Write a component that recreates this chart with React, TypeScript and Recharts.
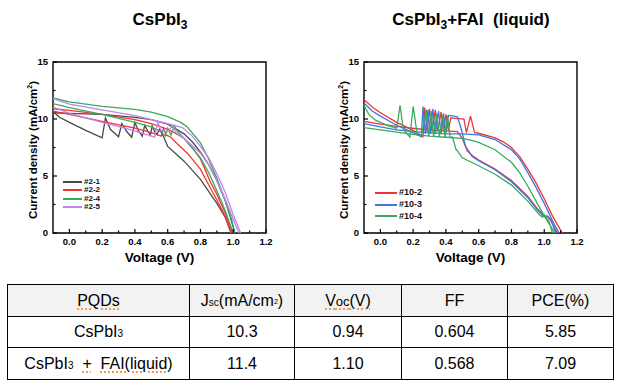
import React from "react";
import { LineChart, Line, XAxis, YAxis, ReferenceArea } from "recharts";

// axis ticks
const xMajor = [0, 0.2, 0.4, 0.6, 0.8, 1.0, 1.2];
const xMinor = [0.1, 0.3, 0.5, 0.7, 0.9, 1.1];
const yMajor = [0, 5, 10, 15];
const yMinor = [2.5, 7.5, 12.5];

// CsPbI3 curves  [V, J]
const s21a = [[-0.1, 10.55], [0, 10.5], [0.2, 10.4], [0.4, 10.15], [0.5, 9.95], [0.6, 9.55], [0.7, 8.7], [0.75, 8.0], [0.8, 7.1], [0.85, 6.0], [0.9, 4.6], [0.95, 2.9], [0.98, 1.5], [1.0, 0.5], [1.01, 0]];
const s21b = [[-0.1, 10.65], [-0.06, 10.15], [0, 9.7], [0.1, 9.0], [0.2, 8.35], [0.22, 10.1], [0.25, 9.1], [0.3, 8.45], [0.32, 9.6], [0.35, 8.9], [0.38, 8.4], [0.4, 9.7], [0.42, 9.0], [0.445, 8.5], [0.46, 9.45], [0.48, 8.9], [0.495, 8.6], [0.505, 9.4], [0.52, 8.9], [0.535, 8.65], [0.55, 9.1], [0.575, 8.45], [0.6, 7.6], [0.7, 6.3], [0.8, 4.7], [0.9, 2.6], [0.95, 1.4], [0.99, 0]];
const s22a = [[-0.1, 10.9], [0, 10.75], [0.2, 10.4], [0.4, 9.95], [0.5, 9.6], [0.6, 9.1], [0.66, 8.65], [0.7, 8.3], [0.76, 7.3], [0.8, 6.5], [0.86, 4.5], [0.9, 3.4], [0.95, 1.8], [0.98, 0.6], [0.995, 0]];
const s22b = [[-0.1, 10.7], [0, 10.4], [0.2, 9.8], [0.4, 9.2], [0.5, 8.8], [0.56, 8.5], [0.575, 9.2], [0.59, 8.6], [0.62, 8.4], [0.66, 7.8], [0.72, 7.0], [0.8, 5.6], [0.84, 4.5], [0.9, 2.9], [0.95, 1.5], [0.985, 0]];
const s24a = [[-0.1, 11.85], [0, 11.5], [0.2, 11.1], [0.4, 10.85], [0.5, 10.6], [0.6, 10.2], [0.68, 9.7], [0.72, 9.3], [0.8, 7.9], [0.85, 6.5], [0.9, 4.8], [0.95, 2.9], [0.99, 1.2], [1.01, 0]];
const s24b = [[-0.1, 11.35], [0, 11.0], [0.2, 10.4], [0.4, 9.7], [0.5, 9.3], [0.56, 8.9], [0.585, 8.5], [0.6, 9.2], [0.62, 8.6], [0.64, 9.4], [0.66, 8.9], [0.7, 8.3], [0.8, 6.6], [0.85, 5.3], [0.9, 3.7], [0.95, 2.0], [1.0, 0]];
const s25a = [[-0.1, 11.8], [0, 11.3], [0.2, 10.8], [0.4, 10.3], [0.6, 9.6], [0.69, 9.25], [0.75, 8.5], [0.8, 7.6], [0.85, 6.6], [0.9, 5.2], [0.95, 3.6], [1.0, 1.6], [1.045, 0]];
const s25b = [[-0.1, 11.05], [0, 10.5], [0.2, 9.7], [0.4, 8.95], [0.52, 8.4], [0.54, 9.7], [0.56, 9.0], [0.6, 8.9], [0.63, 9.4], [0.65, 8.8], [0.7, 8.3], [0.8, 7.0], [0.85, 6.0], [0.9, 4.6], [0.95, 3.0], [1.0, 1.2], [1.035, 0]];

// CsPbI3 + FAI curves
const r102a = [[-0.1, 11.7], [-0.05, 11.05], [0, 10.55], [0.1, 9.7], [0.2, 9.0], [0.26, 8.45], [0.27, 11.0], [0.285, 8.9], [0.3, 10.9], [0.315, 8.9], [0.335, 10.8], [0.35, 8.9], [0.37, 10.6], [0.385, 8.9], [0.4, 10.4], [0.415, 9.0], [0.43, 10.1], [0.51, 10.0], [0.525, 8.8], [0.55, 10.25], [0.575, 8.8], [0.6, 8.75], [0.7, 8.35], [0.75, 8.0], [0.8, 7.5], [0.85, 6.7], [0.9, 5.6], [0.95, 4.4], [1.0, 3.0], [1.05, 1.5], [1.11, 0]];
const r102b = [[-0.1, 9.8], [0, 9.55], [0.1, 9.35], [0.25, 9.1], [0.35, 9.0], [0.47, 8.9], [0.5, 8.3], [0.53, 7.2], [0.57, 6.7], [0.6, 6.4], [0.7, 5.6], [0.8, 4.6], [0.9, 3.2], [0.96, 2.1], [1.0, 1.5], [1.02, 1.45], [1.04, 1.1], [1.08, 0]];
const r103a = [[-0.1, 11.4], [-0.05, 10.7], [0, 10.25], [0.1, 9.45], [0.2, 8.8], [0.25, 8.45], [0.26, 11.1], [0.275, 8.7], [0.29, 10.8], [0.305, 8.7], [0.32, 10.9], [0.335, 8.7], [0.355, 10.7], [0.37, 8.7], [0.385, 10.5], [0.4, 8.8], [0.415, 10.3], [0.43, 10.3], [0.47, 10.2], [0.49, 9.3], [0.52, 7.6], [0.56, 6.7], [0.6, 6.35], [0.7, 5.55], [0.8, 4.5], [0.9, 3.1], [0.96, 2.0], [1.0, 1.4], [1.02, 1.5], [1.04, 1.2], [1.07, 0]];
const r103b = [[-0.1, 9.6], [0, 9.3], [0.1, 9.05], [0.2, 8.9], [0.3, 8.8], [0.4, 8.7], [0.5, 8.7], [0.6, 8.6], [0.7, 8.2], [0.8, 7.3], [0.85, 6.5], [0.9, 5.3], [0.95, 4.0], [1.0, 2.6], [1.05, 1.1], [1.09, 0]];
const r104a = [[-0.1, 11.2], [-0.07, 10.4], [-0.03, 9.9], [0, 9.7], [0.05, 9.4], [0.1, 9.2], [0.12, 11.2], [0.14, 9.1], [0.18, 8.4], [0.2, 11.1], [0.225, 8.6], [0.25, 8.55], [0.28, 10.8], [0.295, 8.5], [0.31, 10.7], [0.325, 8.45], [0.345, 10.5], [0.36, 8.45], [0.38, 10.3], [0.395, 8.4], [0.41, 10.3], [0.425, 8.4], [0.44, 8.4], [0.46, 7.4], [0.5, 6.6], [0.6, 5.9], [0.7, 5.15], [0.8, 4.2], [0.9, 2.8], [0.97, 1.6], [0.99, 1.4], [1.0, 1.6], [1.03, 1.0], [1.05, 0]];
const r104b = [[-0.1, 9.25], [0, 9.05], [0.1, 8.85], [0.2, 8.65], [0.3, 8.5], [0.4, 8.4], [0.5, 8.3], [0.55, 8.15], [0.6, 7.95], [0.7, 7.3], [0.8, 6.2], [0.85, 5.3], [0.9, 4.1], [0.95, 2.8], [1.0, 1.5], [1.065, 0]];

const GRAY = "#4a4a4a";
const RED = "#f03434";
const GREEN = "#3aaa5e";
const PURPLE = "#c283f0";
const BLUE = "#3a78e2";

const leftSamples = [
  { name: "#2-1", color: GRAY, branches: [s21a, s21b] },
  { name: "#2-2", color: RED, branches: [s22a, s22b] },
  { name: "#2-4", color: GREEN, branches: [s24a, s24b] },
  { name: "#2-5", color: PURPLE, branches: [s25a, s25b] },
];
const rightSamples = [
  { name: "#10-2", color: RED, branches: [r102a, r102b] },
  { name: "#10-3", color: BLUE, branches: [r103a, r103b] },
  { name: "#10-4", color: GREEN, branches: [r104a, r104b] },
];

// table
const tableNames = ["CsPbI3", "CsPbI3 + FAI(liquid)"];
const jscVals = ["10.3", "11.4"];
const vocVals = ["0.94", "1.10"];
const ffVals = ["0.604", "0.568"];
const pceVals = ["5.85", "7.09"];
const colWidths = [182, 105, 107, 106, 106];

const FONT = '"Liberation Sans", Arial, sans-serif';

const toPts = (arr: number[][]) => arr.map(([v, j]) => ({ v, j }));
const has = (list: number[], v: number) => list.some((t) => Math.abs(t - v) < 1e-6);

function XTick(p: any) {
  const { x, y, payload } = p;
  const major = has(xMajor, payload.value);
  return (
    <g>
      <line x1={x} x2={x} y1={y} y2={y - (major ? 4 : 2.5)} stroke="#000" strokeWidth={1.2} />
      {major && (
        <text x={x} y={y + 11.5} textAnchor="middle" fontSize={9.5} fontWeight="bold" fontFamily={FONT} fill="#000">
          {payload.value.toFixed(1)}
        </text>
      )}
    </g>
  );
}

function YTick(p: any) {
  const { x, y, payload } = p;
  const major = has(yMajor, payload.value);
  return (
    <g>
      <line x1={x} x2={x + (major ? 4 : 2.5)} y1={y} y2={y} stroke="#000" strokeWidth={1.2} />
      {major && (
        <text x={x - 5} y={y + 3.4} textAnchor="end" fontSize={9.5} fontWeight="bold" fontFamily={FONT} fill="#000">
          {payload.value}
        </text>
      )}
    </g>
  );
}

function JVChart({ samples }: { samples: typeof leftSamples }) {
  return (
    <LineChart width={311} height={270} margin={{ top: 62, right: 45, bottom: 36, left: 52 }}>
      <XAxis
        dataKey="v"
        type="number"
        domain={[-0.1, 1.2]}
        ticks={[...xMajor, ...xMinor]}
        interval={0}
        height={1}
        tickSize={0}
        tickMargin={0}
        tickLine={false}
        axisLine={false}
        allowDataOverflow
        tick={(p: any) => <XTick {...p} />}
      />
      <YAxis
        dataKey="j"
        type="number"
        domain={[0, 15]}
        ticks={[...yMajor, ...yMinor]}
        interval={0}
        width={1}
        tickSize={0}
        tickMargin={0}
        tickLine={false}
        axisLine={false}
        allowDataOverflow
        tick={(p: any) => <YTick {...p} />}
      />
      <ReferenceArea x1={-0.1} x2={1.2} y1={0} y2={15} fill="none" stroke="#000" strokeWidth={1.4} />
      {samples.flatMap((s) =>
        s.branches.map((b, i) => (
          <Line
            key={s.name + i}
            data={toPts(b)}
            dataKey="j"
            type="linear"
            stroke={s.color}
            strokeWidth={1.3}
            dot={false}
            activeDot={false}
            legendType="none"
            isAnimationActive={false}
          />
        ))
      )}
    </LineChart>
  );
}

function LegendBox({ samples, left, top, gap, lineW, fontSize }: any) {
  return (
    <div style={{ position: "absolute", left, top, fontFamily: FONT }}>
      {samples.map((s: any) => (
        <div key={s.name} style={{ display: "flex", alignItems: "center", height: gap }}>
          <span style={{ display: "inline-block", width: lineW, height: 2, background: s.color, marginRight: 2 }} />
          <span style={{ fontSize, fontWeight: "bold", lineHeight: 1, color: "#111" }}>{s.name}</span>
        </div>
      ))}
    </div>
  );
}

function Labels({ offset, title }: { offset: number; title: React.ReactNode }) {
  return (
    <>
      <div style={{ position: "absolute", left: offset + 40, width: 240, top: 8, textAlign: "center", fontSize: 17, fontWeight: "bold", whiteSpace: "pre", lineHeight: "24px" }}>
        {title}
      </div>
      <div style={{ position: "absolute", left: offset + 53, width: 213, top: 250, textAlign: "center", fontSize: 13.5, fontWeight: "bold" }}>
        Voltage (V)
      </div>
      <div
        style={{
          position: "absolute",
          left: offset + 30 - 100,
          top: 150 - 8,
          width: 200,
          height: 16,
          lineHeight: "16px",
          textAlign: "center",
          fontSize: 11.5,
          fontWeight: "bold",
          transform: "rotate(-90deg)",
        }}
      >
        Current density (mA/cm<sup style={{ fontSize: 7 }}>2</sup>)
      </div>
    </>
  );
}

const spell: React.CSSProperties = {
  textDecorationLine: "underline",
  textDecorationStyle: "dotted",
  textDecorationColor: "#e8842c",
  textUnderlineOffset: 3,
};

function TitleCs() {
  return (
    <>
      CsPbI<span style={{ fontSize: 12, verticalAlign: "-4px", lineHeight: 0 }}>3</span>
    </>
  );
}

function CsPbI() {
  return (
    <>
      CsPbI<span style={{ fontSize: 10 }}>3</span>
    </>
  );
}

export default function App() {
  const cell: React.CSSProperties = { border: "1.3px solid #000", textAlign: "center", verticalAlign: "middle", padding: 0, whiteSpace: "pre" };
  return (
    <div style={{ position: "absolute", left: 0, top: 0, width: 623, height: 387, background: "#fff", fontFamily: FONT, color: "#000" }}>
      <div style={{ position: "absolute", left: 0, top: 0 }}>
        <JVChart samples={leftSamples} />
      </div>
      <div style={{ position: "absolute", left: 311, top: 0 }}>
        <JVChart samples={rightSamples} />
      </div>
      <Labels offset={0} title={<TitleCs />} />
      <Labels offset={311} title={<><TitleCs />{"+FAI  (liquid)"}</>} />
      <LegendBox samples={leftSamples} left={63} top={177.5} gap={8.5} lineW={19} fontSize={8} />
      <LegendBox samples={rightSamples} left={375} top={187} gap={11.7} lineW={22} fontSize={9} />

      <table
        style={{
          position: "absolute",
          left: 7,
          top: 284,
          width: 606,
          borderCollapse: "collapse",
          tableLayout: "fixed",
          fontSize: 16,
          fontFamily: FONT,
        }}
      >
        <colgroup>
          {colWidths.map((w, i) => (
            <col key={i} style={{ width: w }} />
          ))}
        </colgroup>
        <tbody>
          <tr style={{ height: 32, background: "#f2f2f2" }}>
            <td style={cell}><span style={spell}>PQDs</span></td>
            <td style={cell}>
              J<span style={{ fontSize: 10 }}>sc</span>(mA/cm<span style={{ fontSize: 7, verticalAlign: "middle" }}>2</span>)
            </td>
            <td style={cell}>
              <span style={spell}>V<span style={{ fontSize: 13 }}>oc</span>(V)</span>
            </td>
            <td style={cell}>FF</td>
            <td style={cell}>PCE(%)</td>
          </tr>
          {tableNames.map((n, i) => (
            <tr key={n} style={{ height: i === 0 ? 31 : 32, background: "#fff" }}>
              <td style={cell}>
                {i === 0 ? (
                  <CsPbI />
                ) : (
                  <>
                    <CsPbI />{"  "}<span style={spell}>+</span>{"  "}<span style={spell}>FAI(liquid)</span>
                  </>
                )}
              </td>
              <td style={cell}>{jscVals[i]}</td>
              <td style={cell}>{vocVals[i]}</td>
              <td style={cell}>{ffVals[i]}</td>
              <td style={cell}>{pceVals[i]}</td>
            </tr>
          ))}
        </tbody>
      </table>
    </div>
  );
}
